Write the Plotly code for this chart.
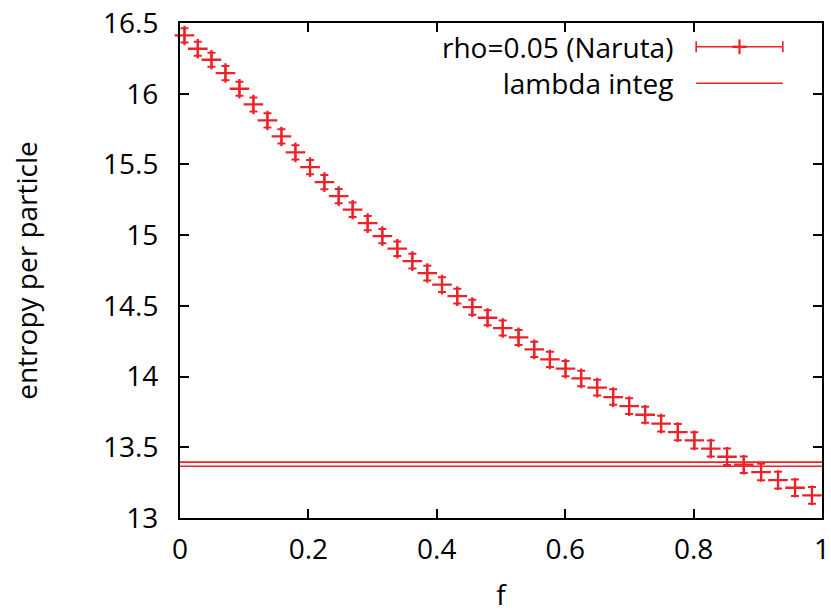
import plotly.graph_objects as go

# data
f_vals = [0.0070, 0.0277, 0.0490, 0.0708, 0.0926, 0.1144, 0.1362, 0.1580, 0.1798, 0.2026,
          0.2249, 0.2472, 0.2689, 0.2923, 0.3152, 0.3385, 0.3619, 0.3852, 0.4081, 0.4319,
          0.4553, 0.4791, 0.5027, 0.5273, 0.5518, 0.5762, 0.6005, 0.6249, 0.6498, 0.6747,
          0.6996, 0.7245, 0.7494, 0.7754, 0.8012, 0.8268, 0.8521, 0.8781, 0.9051, 0.9315,
          0.9580, 0.9844]
entropy = [16.412, 16.318, 16.240, 16.146, 16.035, 15.924, 15.811, 15.698, 15.585, 15.481,
           15.375, 15.276, 15.180, 15.085, 14.993, 14.904, 14.816, 14.732, 14.650, 14.569,
           14.491, 14.416, 14.343, 14.277, 14.192, 14.121, 14.056, 13.987, 13.922, 13.855,
           13.791, 13.730, 13.667, 13.607, 13.549, 13.491, 13.433, 13.377, 13.325, 13.268,
           13.214, 13.160]
entropy_err = [0.050, 0.050, 0.050, 0.050, 0.050, 0.050, 0.050, 0.050, 0.050, 0.050,
               0.050, 0.050, 0.051, 0.051, 0.051, 0.051, 0.052, 0.052, 0.052, 0.052,
               0.053, 0.053, 0.053, 0.053, 0.054, 0.054, 0.054, 0.055, 0.055, 0.055,
               0.056, 0.056, 0.056, 0.057, 0.057, 0.057, 0.058, 0.058, 0.058, 0.059,
               0.059, 0.059]
lambda_lines = [13.395, 13.366]
x_range = [0, 1]
y_range = [13, 16.5]
x_ticks = [0, 0.2, 0.4, 0.6, 0.8, 1]
x_ticktext = ["0", "0.2", "0.4", "0.6", "0.8", "1"]
y_ticks = [13, 13.5, 14, 14.5, 15, 15.5, 16, 16.5]
y_ticktext = ["13", "13.5", "14", "14.5", "15", "15.5", "16", "16.5"]
legend_labels = ["rho=0.05 (Naruta)", "lambda integ"]

RED = "rgb(236,34,40)"
FONT = "Open Sans"
FS = 28

fig = go.Figure()
for yv in lambda_lines:
    fig.add_trace(go.Scatter(x=x_range, y=[yv, yv], mode="lines",
                             line=dict(color=RED, width=1.6), showlegend=False,
                             hoverinfo="skip"))
fig.add_trace(go.Scatter(
    x=f_vals, y=entropy, mode="markers",
    marker=dict(symbol="cross-thin", size=14, line=dict(color=RED, width=2.3), color=RED),
    error_y=dict(type="data", array=entropy_err, visible=True, color=RED,
                 thickness=2, width=4),
    showlegend=False, cliponaxis=False))

# manual gnuplot-style legend (text on the left, sample on the right)
shapes = []
annotations = [dict(x=0.771, y=0.915, xref="paper", yref="paper",
                    text="<br>".join(legend_labels), align="right",
                    showarrow=False, xanchor="right", yanchor="middle",
                    font=dict(family=FONT, size=FS, color="black"))]
rows_y = [0.9519, 0.8784]
x0, x1 = 0.804, 0.939
for yy in rows_y:
    shapes.append(dict(type="line", xref="paper", yref="paper", x0=x0, x1=x1,
                       y0=yy, y1=yy, line=dict(color=RED, width=1.6)))
cap = 0.011
for xc in (x0, x1):
    shapes.append(dict(type="line", xref="paper", yref="paper", x0=xc, x1=xc,
                       y0=rows_y[0] - cap, y1=rows_y[0] + cap, line=dict(color=RED, width=1.6)))
xm = (x0 + x1) / 2
shapes.append(dict(type="line", xref="paper", yref="paper", x0=xm, x1=xm,
                   y0=rows_y[0] - 0.015, y1=rows_y[0] + 0.015, line=dict(color=RED, width=2.2)))
shapes.append(dict(type="line", xref="paper", yref="paper", x0=xm - 0.011, x1=xm + 0.011,
                   y0=rows_y[0], y1=rows_y[0], line=dict(color=RED, width=2.4)))

axis_common = dict(showline=True, linewidth=2, linecolor="black", mirror="ticks",
                   ticks="inside", ticklen=9, tickwidth=1.6, tickcolor="black",
                   showgrid=False, zeroline=False, automargin=False,
                   tickfont=dict(family=FONT, size=FS, color="black"))

fig.update_layout(
    width=831, height=614,
    margin=dict(l=180, r=9, t=23, b=96),
    paper_bgcolor="white", plot_bgcolor="white",
    showlegend=False,
    shapes=shapes, annotations=annotations,
    xaxis=dict(range=x_range, tickvals=x_ticks, ticktext=x_ticktext,
               ticklabelstandoff=5,
               title=dict(text="f", font=dict(family=FONT, size=FS, color="black"), standoff=20),
               **axis_common),
    yaxis=dict(range=y_range, tickvals=y_ticks, ticktext=y_ticktext,
               ticklabelstandoff=14,
               title=dict(text="entropy per particle", font=dict(family=FONT, size=FS, color="black"),
                          standoff=57),
               **axis_common),
)

fig.write_html("out.html")
